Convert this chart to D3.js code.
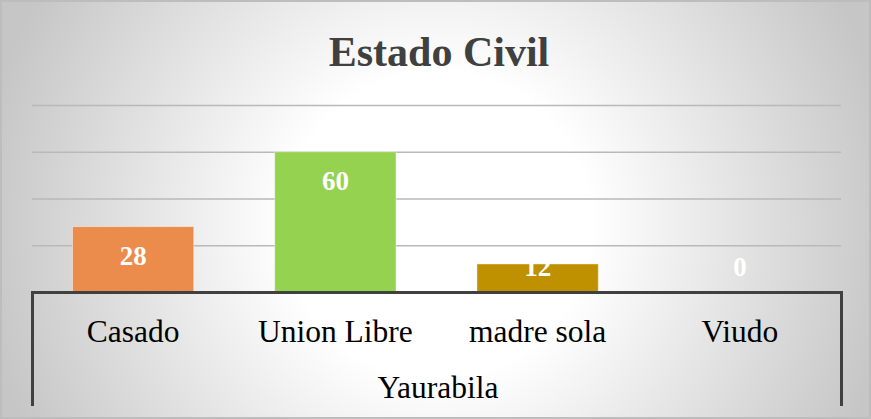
<!DOCTYPE html>
<html>
<head>
<meta charset="utf-8">
<script src="https://cdn.jsdelivr.net/npm/d3@7"></script>
<style>
  html, body { margin: 0; padding: 0; background: #fff; }
  svg { display: block; }
</style>
</head>
<body>
<svg id="chart" width="871" height="419"></svg>
<script>
const title = "Estado Civil";
const axisTitle = "Yaurabila";
const categories = ["Casado", "Union Libre", "madre sola", "Viudo"];
const values = [28, 60, 12, 0];
const barColors = ["#EC8C4C", "#94D250", "#BF9000", "#A5A5A5"];
const gridTicks = [20, 40, 60, 80];

(function () {
const W = 871, H = 419;
const svg = d3.select("#chart");

// background
const defs = svg.append("defs");
const rg = defs.append("radialGradient").attr("id", "bg")
  .attr("gradientUnits", "userSpaceOnUse")
  .attr("cx", 438).attr("cy", 225).attr("r", 460);
rg.append("stop").attr("offset", "0").attr("stop-color", "#ffffff");
rg.append("stop").attr("offset", "0.33").attr("stop-color", "#ffffff");
rg.append("stop").attr("offset", "1").attr("stop-color", "#c6c6c6");
svg.append("rect").attr("x", 0).attr("y", 0).attr("width", W).attr("height", H)
  .attr("fill", "url(#bg)");
svg.append("rect").attr("x", 1).attr("y", 1).attr("width", W - 2).attr("height", H - 2)
  .attr("fill", "none").attr("stroke", "#bdbdbd").attr("stroke-width", 2);

const pLeft = 32, pRight = 841, pBase = 292, pTop = 105;

const x = d3.scaleBand().domain(categories).range([pLeft, pRight])
  .paddingInner(0.4).paddingOuter(0.2);
const y = d3.scaleLinear().domain([0, 80]).range([pBase, pTop]);

// gridlines
const grid = svg.append("g").attr("transform", `translate(${pLeft},0)`)
  .call(d3.axisLeft(y).tickValues(gridTicks).tickSize(-(pRight - pLeft)).tickFormat(""));
grid.select(".domain").remove();
grid.selectAll(".tick line").attr("stroke", "#b9b9b9").attr("stroke-width", 1.5);

// bars
svg.append("g").selectAll("rect").data(values).join("rect")
  .attr("x", (d, i) => x(categories[i]))
  .attr("y", d => y(d))
  .attr("width", x.bandwidth())
  .attr("height", d => y(0) - y(d))
  .attr("fill", (d, i) => barColors[i])
  .attr("stroke", "rgba(255,255,255,0.45)")
  .attr("stroke-width", 1);

// data labels
svg.append("g").selectAll("text").data(values).join("text")
  .attr("x", (d, i) => x(categories[i]) + x.bandwidth() / 2)
  .attr("y", d => Math.min(y(d) + 38, 275.5))
  .attr("text-anchor", "middle")
  .attr("font-family", "'Liberation Serif', 'Times New Roman', serif")
  .attr("font-weight", "bold")
  .attr("font-size", 27)
  .attr("fill", "#ffffff")
  .text(d => d);

// category axis (table-like bracket)
const xa = svg.append("g").attr("transform", `translate(0,${pBase})`)
  .call(d3.axisBottom(x).tickSizeInner(0).tickSizeOuter(114).tickPadding(0));
xa.select(".domain").attr("stroke", "#404040").attr("stroke-width", 3).attr("fill", "none");
xa.selectAll(".tick text")
  .attr("y", 50).attr("dy", 0)
  .attr("font-family", "'Liberation Serif', 'Times New Roman', serif")
  .attr("font-size", 31.5)
  .attr("fill", "#000");

svg.append("text")
  .attr("x", 438).attr("y", 398)
  .attr("text-anchor", "middle")
  .attr("font-family", "'Liberation Serif', 'Times New Roman', serif")
  .attr("font-size", 31.5)
  .attr("fill", "#000")
  .text(axisTitle);

svg.append("text")
  .attr("x", 439).attr("y", 66)
  .attr("text-anchor", "middle")
  .attr("font-family", "'Liberation Serif', 'Times New Roman', serif")
  .attr("font-weight", "bold")
  .attr("font-size", 42)
  .attr("fill", "#404040")
  .text(title);
})();
</script>
</body>
</html>
